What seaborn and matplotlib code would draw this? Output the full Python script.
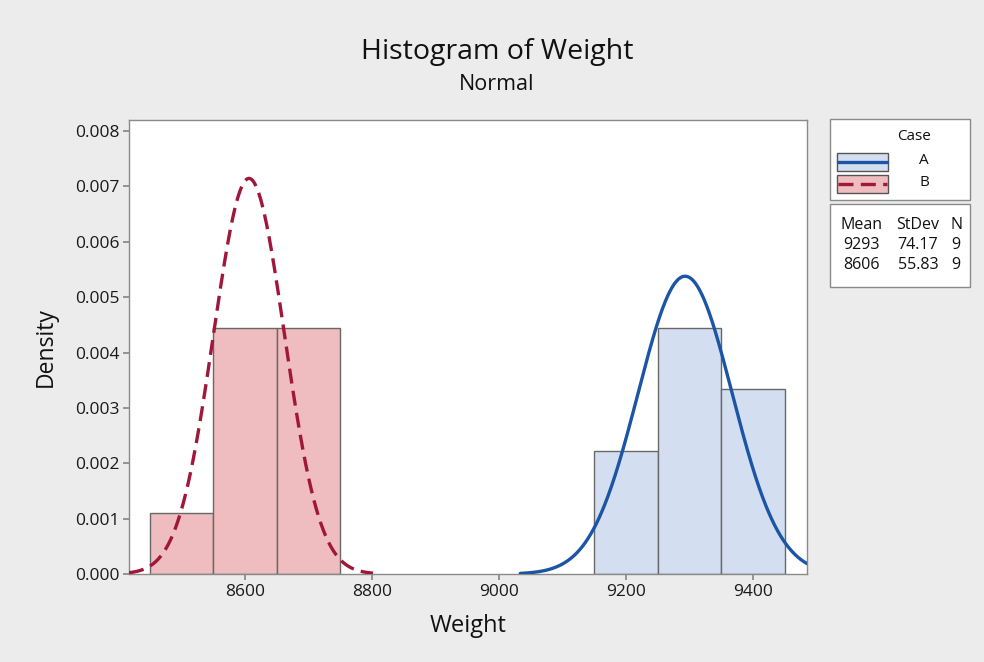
import numpy as np
import pandas as pd
import seaborn as sns
import matplotlib
matplotlib.use("Agg")
import matplotlib.pyplot as plt
from matplotlib.patches import Rectangle
from matplotlib.lines import Line2D

# ---- data ----
cases = ["A", "B"]
bin_edges_a = [9150, 9250, 9350, 9450]
counts_a = [2, 4, 3]
bin_edges_b = [8450, 8550, 8650, 8750]
counts_b = [1, 4, 4]
means = [9293, 8606]
stdevs = [74.17, 55.83]
ns = [9, 9]
x_ticks = [8600, 8800, 9000, 9200, 9400]
y_ticks = [0.000, 0.001, 0.002, 0.003, 0.004, 0.005, 0.006, 0.007, 0.008]

sns.set_theme(style="white")
plt.rcParams["font.family"] = ["Open Sans", "DejaVu Sans"]

bg = "#ececec"
fill_colors = {"A": "#d3dff0", "B": "#efbcbf"}
line_colors = {"A": "#1c55a6", "B": "#a0173a"}
line_styles = {"A": "-", "B": (0, (4.5, 2.2))}
edge_col = "#686868"

W, H = 984, 662
fig = plt.figure(figsize=(W / 100, H / 100), dpi=100, facecolor=bg)
ax = fig.add_axes([0.1311, 0.1329, 0.689, 0.6858])
ax.set_facecolor("white")

xlim = (8417, 9485)
edges = {"A": bin_edges_a, "B": bin_edges_b}
counts = {"A": counts_a, "B": counts_b}
for c in cases:
    e = edges[c]
    centers = [(e[i] + e[i + 1]) / 2 for i in range(len(e) - 1)]
    df = pd.DataFrame({"Weight": centers, "count": counts[c]})
    sns.histplot(data=df, x="Weight", weights="count", bins=e, stat="density",
                 color=fill_colors[c], alpha=1.0, edgecolor=edge_col,
                 linewidth=1.0, ax=ax, zorder=2)

for c, m, s in zip(cases, means, stdevs):
    xs = np.linspace(max(xlim[0], m - 3.5 * s), min(xlim[1], m + 3.5 * s), 400)
    ys = np.exp(-0.5 * ((xs - m) / s) ** 2) / (s * np.sqrt(2 * np.pi))
    sns.lineplot(x=xs, y=ys, color=line_colors[c], linewidth=2.4,
                 linestyle=line_styles[c], ax=ax, zorder=3)

ax.set_xlim(*xlim)
ax.set_ylim(0, 0.0082)
ax.set_xticks(x_ticks)
ax.set_yticks(y_ticks)
ax.set_yticklabels([f"{v:.3f}" for v in y_ticks])
ax.tick_params(axis="both", labelsize=12.5, length=4, direction="out",
               bottom=True, left=True, pad=3, colors="#888888",
               labelcolor="#1a1a1a")
for sp in ax.spines.values():
    sp.set_color("#8a8a8a")
    sp.set_linewidth(1.0)
ax.set_xlabel("Weight", fontsize=17, labelpad=10, color="#111111")
ax.set_ylabel("Density", fontsize=16.5, labelpad=12, color="#111111")

fig.text(0.505, 1 - 52 / H, "Histogram of Weight", ha="center", va="center",
         fontsize=20.5, color="#111111")
fig.text(0.505, 1 - 85 / H, "Normal", ha="center", va="center",
         fontsize=15.5, color="#111111")

def fx(px):
    return px / W

def fy(py):
    return 1 - py / H

def box(x0, y0, x1, y1):
    fig.patches.append(Rectangle((fx(x0), fy(y1)), fx(x1) - fx(x0), (y1 - y0) / H,
                                 transform=fig.transFigure, facecolor="white",
                                 edgecolor="#8a8a8a", linewidth=1.0))

# legend (Case)
box(830, 119, 970, 200)
fig.text(fx(914), fy(137), "Case", ha="center", va="center", fontsize=11,
         color="#111111")
handle_y = {"A": (153, 171), "B": (175, 193)}
label_y = {"A": 161, "B": 183}
for c in cases:
    y0, y1 = handle_y[c]
    fig.patches.append(Rectangle((fx(837), fy(y1)), fx(888) - fx(837), (y1 - y0) / H,
                                 transform=fig.transFigure,
                                 facecolor=fill_colors[c], edgecolor="#555555",
                                 linewidth=1.0))
    ym = (y0 + y1) / 2
    fig.lines.append(Line2D([fx(838), fx(887)], [fy(ym), fy(ym)],
                            transform=fig.transFigure, color=line_colors[c],
                            linewidth=2.4, linestyle=line_styles[c]))
    fig.text(fx(924), fy(label_y[c]), c, ha="center", va="center",
             fontsize=11, color="#111111")

# stats box
box(830, 204, 970, 287)
col_x = [862, 918, 956]
rows = [["Mean", "StDev", "N"]] + [[str(m), f"{s:.2f}", str(n)]
                                   for m, s, n in zip(means, stdevs, ns)]
row_y = [225, 245, 265]
for ry, row in zip(row_y, rows):
    for cx, txt in zip(col_x, row):
        fig.text(fx(cx), fy(ry), txt, ha="center", va="center",
                 fontsize=11.5, color="#111111")

fig.savefig("out.png", dpi=100, facecolor=bg)
